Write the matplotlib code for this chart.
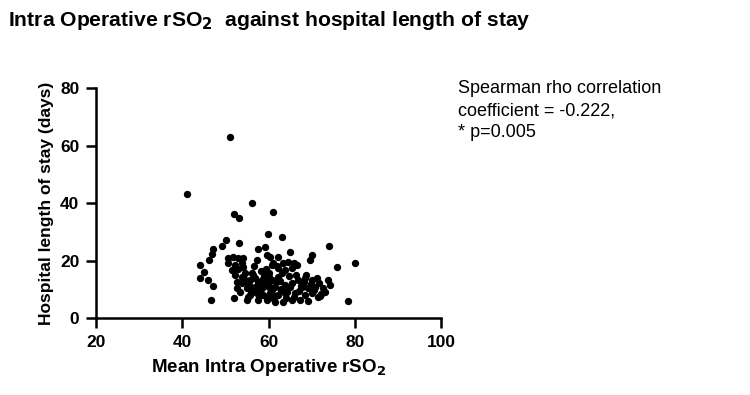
import matplotlib
matplotlib.use("Agg")
import matplotlib.pyplot as plt

plt.rcParams['font.family'] = ['Liberation Sans', 'DejaVu Sans']

# Mean intra-operative rSO2 (x) and hospital length of stay in days (y)
rso2 = [51.1, 41.1, 56.2, 52.0, 53.2, 61.0, 59.9, 63.1, 53.2, 50.1,
        49.2, 47.1, 47.0, 46.2, 44.1, 45.0, 44.1, 46.0, 47.1, 46.7,
        52.0, 57.6, 59.2, 65.0, 70.0, 69.6, 74.0, 75.9, 80.0, 78.4,
        57.3, 59.6, 61.0,
        50.7, 51.8, 53.0, 54.2, 50.7, 52.2, 53.8, 51.5, 53.0, 52.2,
        53.8, 54.6, 52.6, 53.8, 55.7, 56.9, 58.4, 60.0, 60.7, 54.9,
        56.9, 58.4, 60.0, 55.7, 57.3, 58.8, 60.3, 54.9, 57.6, 59.6,
        61.1,
        60.3, 62.1, 60.7, 63.4, 64.6, 65.8, 66.5, 62.3, 63.8, 65.4,
        60.0, 62.3, 63.1, 66.9, 68.5, 70.0, 71.2, 73.9, 59.6, 61.5,
        63.8, 65.4, 67.7, 69.2, 70.8, 72.7, 74.3, 60.0, 62.3, 63.8,
        66.1, 68.5, 70.0, 71.5, 61.5, 63.4, 65.4, 67.3, 69.2, 73.1,
        69.9,
        55.0, 56.0, 57.5, 58.0, 59.0, 61.8, 62.8, 64.2, 55.2, 56.4,
        57.8, 59.1, 61.2, 62.6, 64.8, 66.4, 67.0, 68.0, 71.8, 72.2,
        53.4, 55.4, 56.1, 58.2, 59.4, 60.9, 62.0, 64.0, 66.0, 68.8,
        54.3, 55.8, 57.0, 58.6, 60.2, 61.6, 63.0, 64.4, 67.5, 70.6,
        52.8, 54.0, 56.6, 58.9, 62.5, 65.1, 68.2, 72.0]
stay = [63, 43, 40, 36.2, 34.8, 36.9, 29.2, 28.2, 26, 27,
        25, 24, 22.3, 20.2, 18.4, 16, 14, 13.2, 11.1, 6.3,
        7, 24, 24.7, 23, 22, 20.2, 25, 17.7, 19, 5.9,
        20.2, 21.9, 19,
        20.8, 21.3, 20.8, 20.8, 19, 18.4, 19, 16.7, 16.9, 15,
        14.4, 15.5, 12.6, 12.1, 13.2, 13.8, 13.2, 14.4, 13.2, 10.3,
        10.9, 11.5, 10.9, 8, 8.6, 8, 8.6, 6.3, 6.3, 6.3,
        6.9,
        21.3, 21.1, 18.4, 19, 19.6, 19, 18.4, 17.3, 16.7, 17.3,
        15.5, 14.4, 15.5, 13.2, 13.8, 13.2, 13.8, 13.2, 12.1, 10.9,
        11.5, 12.1, 10.9, 10.3, 10.9, 10.3, 11.5, 8, 8, 8.6,
        8.6, 8, 8.6, 7.4, 5.7, 5.7, 6.3, 6.3, 6, 9.1,
        11.9,
        12, 9.5, 12.4, 9.8, 12.8, 12.6, 9.6, 10, 7.2, 14.8,
        7.6, 15.8, 7, 13, 14.6, 15, 9.4, 12, 12, 8.2,
        9, 11.6, 15.8, 16.2, 17, 9.6, 18.2, 7, 7.4, 14.8,
        13.6, 10.6, 9.2, 10.4, 11, 7.8, 10, 9.2, 11, 9.6,
        10.4, 17.6, 18, 14.6, 12.8, 10.8, 12.4, 7.6]

fig = plt.figure(figsize=(7.5, 3.95), dpi=100)
ax = fig.add_axes([0.128, 0.195, 0.460, 0.582])

ax.scatter(rso2, stay, s=28, color='black', zorder=3, linewidths=0)

ax.set_xlim(20, 100)
ax.set_ylim(0, 80)
ax.set_xticks([20, 40, 60, 80, 100])
ax.set_yticks([0, 20, 40, 60, 80])
for side in ['top', 'right']:
    ax.spines[side].set_visible(False)
for side in ['left', 'bottom']:
    ax.spines[side].set_linewidth(1.8)
ax.tick_params(direction='out', length=7, width=1.8, labelsize=12.5, pad=5)
for lab in ax.get_xticklabels() + ax.get_yticklabels():
    lab.set_fontweight('bold')

ax.set_xlabel('Mean Intra Operative rSO$_\\mathbf{2}$', fontsize=13.5,
              fontweight='bold', labelpad=5)
ax.set_ylabel('Hospital length of stay (days)', fontsize=12.5,
              fontweight='bold', labelpad=4)

fig.text(0.011, 0.948, 'Intra Operative rSO$_\\mathbf{2}$  against hospital length of stay',
         fontsize=15.2, fontweight='bold', ha='left', va='center')

fig.text(0.611, 0.72,
         'Spearman rho correlation\ncoefficient = -0.222,\n* p=0.005',
         fontsize=13, ha='left', va='center', linespacing=1.4)

fig.savefig('out.png', dpi=100)
